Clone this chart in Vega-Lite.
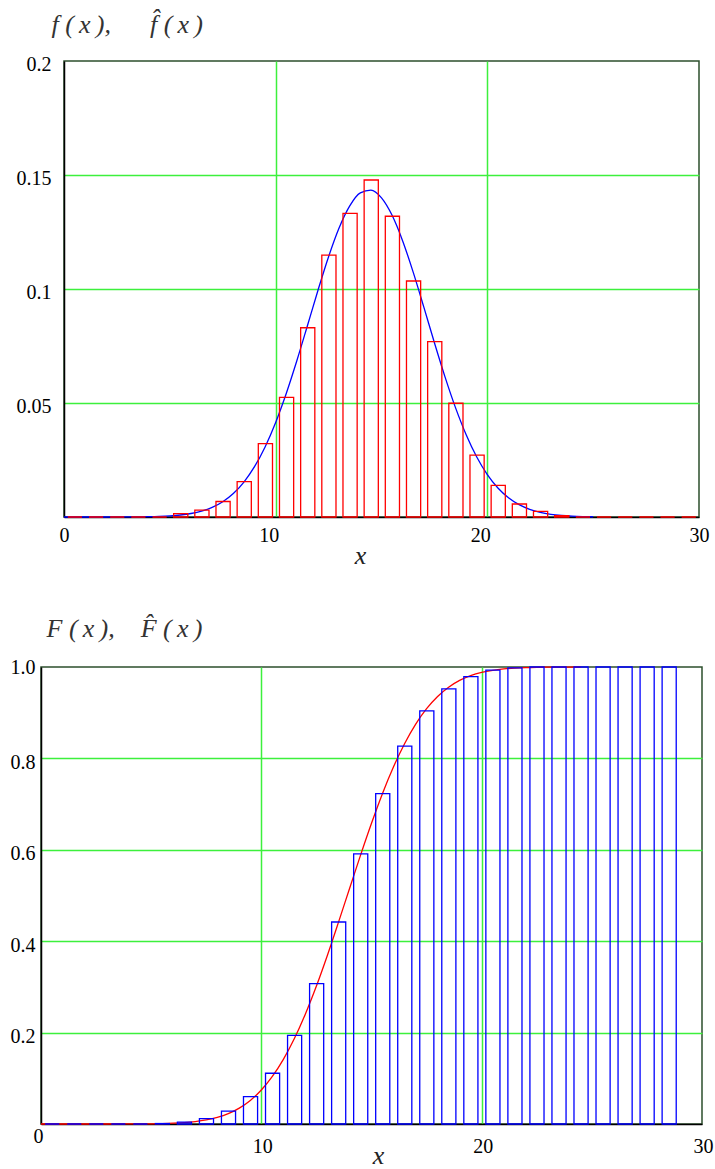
{
  "$schema": "https://vega.github.io/schema/vega-lite/v6.json",
  "background": "white",
  "padding": {"left": 9, "top": 10, "right": 0, "bottom": 0},
  "config": {
    "view": {"stroke": "#2d4f2d", "strokeWidth": 1.5},
    "style": {"guide-label": {"font": "Liberation Serif"}, "guide-title": {"font": "Liberation Serif"}},
    "axis": {
      "labelFont": "Liberation Serif", "labelFontSize": 20, "labelColor": "#000",
      "ticks": false, "domainColor": "#000", "domainWidth": 1.5, "gridWidth": 1.5,
      "labelFlush": false, "labelOverlap": false,
      "titleFont": "Liberation Serif", "titleFontStyle": "italic", "titleFontWeight": "normal", "titleColor": "#222"
    }
  },
  "datasets": {
    "hist": [
      {"x": 0.18, "xe": 0.85, "v": 0}, {"x": 1.18, "xe": 1.85, "v": 0}, {"x": 2.18, "xe": 2.85, "v": 0},
      {"x": 3.18, "xe": 3.85, "v": 0}, {"x": 4.18, "xe": 4.85, "v": 0}, {"x": 5.18, "xe": 5.85, "v": 0.0015},
      {"x": 6.18, "xe": 6.85, "v": 0.003}, {"x": 7.18, "xe": 7.85, "v": 0.0068}, {"x": 8.18, "xe": 8.85, "v": 0.0155},
      {"x": 9.18, "xe": 9.85, "v": 0.0322}, {"x": 10.18, "xe": 10.85, "v": 0.0525}, {"x": 11.18, "xe": 11.85, "v": 0.083},
      {"x": 12.18, "xe": 12.85, "v": 0.1149}, {"x": 13.18, "xe": 13.85, "v": 0.1332}, {"x": 14.18, "xe": 14.85, "v": 0.1478},
      {"x": 15.18, "xe": 15.85, "v": 0.1319}, {"x": 16.18, "xe": 16.85, "v": 0.1035}, {"x": 17.18, "xe": 17.85, "v": 0.0769},
      {"x": 18.18, "xe": 18.85, "v": 0.0499}, {"x": 19.18, "xe": 19.85, "v": 0.0271}, {"x": 20.18, "xe": 20.85, "v": 0.0139},
      {"x": 21.18, "xe": 21.85, "v": 0.0057}, {"x": 22.18, "xe": 22.85, "v": 0.0025}, {"x": 23.18, "xe": 23.85, "v": 0.0006},
      {"x": 24.18, "xe": 24.85, "v": 0}, {"x": 25.18, "xe": 25.85, "v": 0}, {"x": 26.18, "xe": 26.85, "v": 0},
      {"x": 27.18, "xe": 27.85, "v": 0}, {"x": 28.18, "xe": 28.85, "v": 0}, {"x": 29.18, "xe": 29.85, "v": 0}
    ],
    "dens": [
      {"x": 0, "v": 0}, {"x": 1, "v": 0.0000002}, {"x": 2, "v": 0.000007}, {"x": 3, "v": 0.000033},
      {"x": 3.5, "v": 0.000068}, {"x": 4, "v": 0.000135}, {"x": 4.5, "v": 0.00026}, {"x": 5, "v": 0.00048},
      {"x": 5.5, "v": 0.00087}, {"x": 6, "v": 0.00153}, {"x": 6.5, "v": 0.00258}, {"x": 7, "v": 0.00423},
      {"x": 7.5, "v": 0.00672}, {"x": 8, "v": 0.0103}, {"x": 8.5, "v": 0.01532}, {"x": 9, "v": 0.02206},
      {"x": 9.5, "v": 0.03074}, {"x": 10, "v": 0.04149}, {"x": 10.5, "v": 0.05419}, {"x": 11, "v": 0.06853},
      {"x": 11.5, "v": 0.0839}, {"x": 12, "v": 0.09947}, {"x": 12.5, "v": 0.11417}, {"x": 13, "v": 0.12687},
      {"x": 13.5, "v": 0.13648}, {"x": 14, "v": 0.14217}, {"x": 14.5, "v": 0.14337}, {"x": 15, "v": 0.13997},
      {"x": 15.5, "v": 0.13231}, {"x": 16, "v": 0.12109}, {"x": 16.5, "v": 0.10729}, {"x": 17, "v": 0.09204},
      {"x": 17.5, "v": 0.07644}, {"x": 18, "v": 0.06147}, {"x": 18.5, "v": 0.04786}, {"x": 19, "v": 0.03608},
      {"x": 19.5, "v": 0.02632}, {"x": 20, "v": 0.0186}, {"x": 20.5, "v": 0.01272}, {"x": 21, "v": 0.00843},
      {"x": 21.5, "v": 0.0054}, {"x": 22, "v": 0.00335}, {"x": 22.5, "v": 0.00202}, {"x": 23, "v": 0.00117},
      {"x": 23.5, "v": 0.00066}, {"x": 24, "v": 0.00036}, {"x": 24.5, "v": 0.00019}, {"x": 25, "v": 0.0001}
    ],
    "cum": [
      {"x": 0.19, "xe": 0.83, "v": 0}, {"x": 1.19, "xe": 1.83, "v": 0}, {"x": 2.19, "xe": 2.83, "v": 0},
      {"x": 3.19, "xe": 3.83, "v": 0}, {"x": 4.19, "xe": 4.83, "v": 0}, {"x": 5.19, "xe": 5.83, "v": 0.001},
      {"x": 6.19, "xe": 6.83, "v": 0.004}, {"x": 7.19, "xe": 7.83, "v": 0.0117}, {"x": 8.19, "xe": 8.83, "v": 0.028},
      {"x": 9.19, "xe": 9.83, "v": 0.06}, {"x": 10.19, "xe": 10.83, "v": 0.111}, {"x": 11.19, "xe": 11.83, "v": 0.194},
      {"x": 12.19, "xe": 12.83, "v": 0.307}, {"x": 13.19, "xe": 13.83, "v": 0.442}, {"x": 14.19, "xe": 14.83, "v": 0.591},
      {"x": 15.19, "xe": 15.83, "v": 0.723}, {"x": 16.19, "xe": 16.83, "v": 0.827}, {"x": 17.19, "xe": 17.83, "v": 0.904},
      {"x": 18.19, "xe": 18.83, "v": 0.952}, {"x": 19.19, "xe": 19.83, "v": 0.979}, {"x": 20.19, "xe": 20.83, "v": 0.993},
      {"x": 21.19, "xe": 21.83, "v": 0.998}, {"x": 22.19, "xe": 22.83, "v": 1.0}, {"x": 23.19, "xe": 23.83, "v": 1.0},
      {"x": 24.19, "xe": 24.83, "v": 1.0}, {"x": 25.19, "xe": 25.83, "v": 1.0}, {"x": 26.19, "xe": 26.83, "v": 1.0},
      {"x": 27.19, "xe": 27.83, "v": 1.0}, {"x": 28.19, "xe": 28.83, "v": 1.0}
    ],
    "cdf": [
      {"x": 0, "v": 0}, {"x": 1, "v": 0}, {"x": 2, "v": 0.000005}, {"x": 3, "v": 0.00003},
      {"x": 4, "v": 0.00012}, {"x": 4.5, "v": 0.00025}, {"x": 5, "v": 0.00049}, {"x": 5.5, "v": 0.00093},
      {"x": 6, "v": 0.00172}, {"x": 6.5, "v": 0.00306}, {"x": 7, "v": 0.0053}, {"x": 7.5, "v": 0.00889},
      {"x": 8, "v": 0.01444}, {"x": 8.5, "v": 0.02275}, {"x": 9, "v": 0.03477}, {"x": 9.5, "v": 0.05155},
      {"x": 10, "v": 0.07437}, {"x": 10.5, "v": 0.104}, {"x": 11, "v": 0.1414}, {"x": 11.5, "v": 0.187},
      {"x": 12, "v": 0.2408}, {"x": 12.5, "v": 0.3019}, {"x": 13, "v": 0.3694}, {"x": 13.5, "v": 0.4412},
      {"x": 14, "v": 0.5148}, {"x": 14.5, "v": 0.5879}, {"x": 15, "v": 0.6581}, {"x": 15.5, "v": 0.7234},
      {"x": 16, "v": 0.7817}, {"x": 16.5, "v": 0.8322}, {"x": 17, "v": 0.8746}, {"x": 17.5, "v": 0.9088},
      {"x": 18, "v": 0.9356}, {"x": 18.5, "v": 0.9558}, {"x": 19, "v": 0.9706}, {"x": 19.5, "v": 0.981},
      {"x": 20, "v": 0.9881}, {"x": 20.5, "v": 0.9927}, {"x": 21, "v": 0.99573}, {"x": 21.5, "v": 0.99756},
      {"x": 22, "v": 0.99865}, {"x": 22.5, "v": 0.99928}, {"x": 23, "v": 0.99962}, {"x": 23.5, "v": 0.9998},
      {"x": 24, "v": 0.99991}, {"x": 24.5, "v": 0.99996}
    ]
  },
  "spacing": 45,
  "vconcat": [
    {
      "hconcat": [
        {
          "width": 23, "height": 456,
          "view": {"stroke": null},
          "data": {"values": [{}]},
          "mark": {"type": "point", "opacity": 0}
        },
        {
          "width": 635, "height": 456,
          "layer": [
            {
              "data": {"name": "dens"},
              "mark": {"type": "line", "color": "#0000ff", "strokeWidth": 1.3, "interpolate": "monotone"},
              "encoding": {
                "x": {"field": "x", "type": "quantitative",
                  "scale": {"domain": [0, 30], "nice": false, "zero": false},
                  "axis": {
                    "values": [0, 10, 20, 30], "format": "d",
                    "labelFont": "Liberation Serif", "labelFontSize": 20,
                    "labelBaseline": "top", "labelPadding": 8,
                    "labelOffset": {"condition": {"test": "datum.value == 10 || datum.value == 20", "value": -7}, "value": 0},
                    "grid": true,
                    "gridColor": {"condition": {"test": "datum.value == 0 || datum.value == 30", "value": "transparent"}, "value": "#3cf03c"},
                    "title": "x", "titleFont": "Liberation Serif", "titleFontSize": 26, "titleAlign": "center", "titleBaseline": "alphabetic",
                    "titleX": 296, "titleY": 46
                  }
                },
                "y": {"field": "v", "type": "quantitative",
                  "scale": {"domain": [0, 0.2], "nice": false},
                  "axis": {
                    "values": [0.05, 0.1, 0.15, 0.2], "format": "~g",
                    "labelFont": "Liberation Serif", "labelFontSize": 20,
                    "labelAlign": "right", "labelBaseline": "middle", "labelPadding": 13, "labelOffset": 3,
                    "grid": true,
                    "gridColor": {"condition": {"test": "datum.value >= 0.2", "value": "transparent"}, "value": "#3cf03c"},
                    "title": "f\u00a0(\u2009x\u2009),\u2003\u2002f\u0302\u00a0(\u2009x\u2009)", "titleFont": "Liberation Serif", "titleAngle": 0, "titleFontSize": 26, "titleColor": "#333",
                    "titleAlign": "left", "titleBaseline": "alphabetic", "titleX": -13, "titleY": -29
                  }
                }
              }
            },
            {
              "data": {"name": "hist"},
              "mark": {"type": "bar", "filled": false, "color": "#ff0000", "strokeWidth": 1.3},
              "encoding": {
                "x": {"field": "x", "type": "quantitative"},
                "x2": {"field": "xe"},
                "y": {"field": "v", "type": "quantitative"},
                "y2": {"datum": 0}
              }
            }
          ]
        }
      ],
      "spacing": 0,
      "bounds": "flush"
    },
    {
      "width": 661, "height": 457,
      "layer": [
        {
          "data": {"name": "cdf"},
          "mark": {"type": "line", "color": "#ff0000", "strokeWidth": 1.3, "interpolate": "monotone"},
          "encoding": {
            "x": {"field": "x", "type": "quantitative",
              "scale": {"domain": [0, 30], "nice": false, "zero": false},
              "axis": {
                "values": [0, 10, 20, 30], "format": "d",
                "labelFont": "Liberation Serif", "labelFontSize": 20,
                "labelBaseline": "top",
                "labelPadding": {"condition": {"test": "datum.value == 0", "value": 2}, "value": 12},
                "labelOffset": {"condition": {"test": "datum.value == 0", "value": -3}, "value": 1},
                "grid": true,
                "gridColor": {"condition": {"test": "datum.value == 0 || datum.value == 30", "value": "transparent"}, "value": "#3cf03c"},
                "title": "x", "titleFont": "Liberation Serif", "titleFontSize": 26, "titleAlign": "center", "titleBaseline": "alphabetic",
                "titleX": 337, "titleY": 39
              }
            },
            "y": {"field": "v", "type": "quantitative",
              "scale": {"domain": [0, 1], "nice": false},
              "axis": {
                "values": [0.2, 0.4, 0.6, 0.8, 1.0], "format": ".1f",
                "labelFont": "Liberation Serif", "labelFontSize": 20,
                "labelAlign": "right", "labelBaseline": "middle", "labelPadding": 6,
                "labelOffset": {"condition": {"test": "datum.value >= 1", "value": 0}, "value": 4},
                "grid": true,
                "gridColor": {"condition": {"test": "datum.value >= 1", "value": "transparent"}, "value": "#3cf03c"},
                "title": "F\u00a0(\u2009x\u2009),\u2003F\u0302\u00a0(\u2009x\u2009)", "titleFont": "Liberation Serif", "titleAngle": 0, "titleFontSize": 26, "titleColor": "#333",
                "titleAlign": "left", "titleBaseline": "alphabetic", "titleX": 5, "titleY": -31
              }
            }
          }
        },
        {
          "data": {"name": "cum"},
          "mark": {"type": "bar", "filled": false, "color": "#0000ff", "strokeWidth": 1.3},
          "encoding": {
            "x": {"field": "x", "type": "quantitative"},
            "x2": {"field": "xe"},
            "y": {"field": "v", "type": "quantitative"},
            "y2": {"datum": 0}
          }
        }
      ]
    }
  ]
}
